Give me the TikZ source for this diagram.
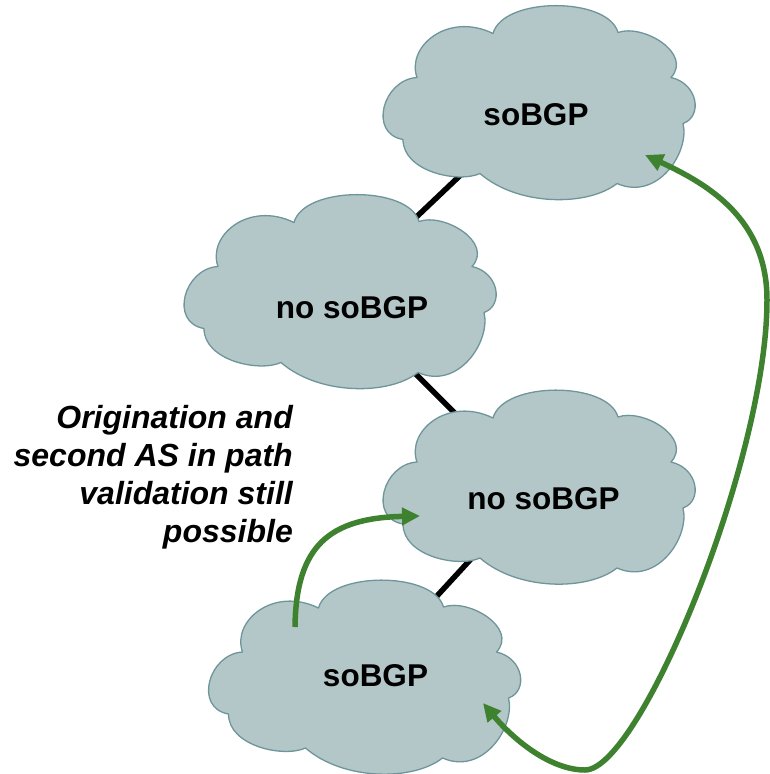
\documentclass[tikz,border=0pt]{standalone}
\usepackage{fontspec}
\setmainfont{Liberation Sans}
\usetikzlibrary{arrows.meta,calc}
\definecolor{cloudfill}{RGB}{179,198,200}
\definecolor{cloudline}{RGB}{110,150,154}
\definecolor{arrowgreen}{RGB}{62,130,48}
\tikzset{
  pics/cloudpic/.style={code={
    \filldraw[fill=cloudfill, draw=cloudline, line width=1.3pt, line join=round]
      (-45,-68) .. controls (-35,-105) and (70,-105) .. (80,-69)
      .. controls (105,-78) and (155,-48) .. (133,-24)
      .. controls (160,-18) and (165,15) .. (145,22)
      .. controls (152,50) and (120,100) .. (79,82)
      .. controls (50,105) and (-20,105) .. (-58,72)
      .. controls (-80,82) and (-135,70) .. (-135,38)
      .. controls (-170,32) and (-155,-22) .. (-121,-24)
      .. controls (-132,-55) and (-90,-90) .. (-45,-68) -- cycle;
  }},
  lbl/.style={font=\fontsize{31.5}{37}\selectfont\bfseries, inner sep=0pt},
  note/.style={font=\fontsize{32}{38}\selectfont\bfseries\itshape, align=right, inner sep=0pt},
  link/.style={line width=5.5pt, black},
  garrow/.style={line width=5.5pt, arrowgreen, -{Triangle[length=18pt,width=17pt]}},
  garrowboth/.style={line width=5.5pt, arrowgreen, {Triangle[length=18pt,width=17pt]}-{Triangle[length=18pt,width=17pt]}},
}
\begin{document}
\begin{tikzpicture}[x=1pt,y=-1pt]
\useasboundingbox (0,0) rectangle (770,774);
\coordinate (c1) at (538,101.5);
\coordinate (c2) at (339,290.5);
\coordinate (c3) at (538,486);
\coordinate (c4) at (363.5,676);
% connectors behind clouds
\draw[link] (c1) -- (c2);
\draw[link] ($(c2)+(0,7)$) -- ($(c3)+(0,10)$);
\draw[link] (c3) -- (c4);
% clouds
\pic (k1) at (c1) {cloudpic};
\pic (k2) at (c2) {cloudpic};
\pic (k3) at (c3) {cloudpic};
\pic (k4) at (c4) {cloudpic};
% labels
\node[lbl] (t1) at (536,114.5) {soBGP};
\node[lbl] (t2) at (352,307.5) {no soBGP};
\node[lbl] (t3) at (543.5,499) {no soBGP};
\node[lbl] (t4) at (375.5,675.5) {soBGP};
\node[note, anchor=north east] (nt) at (293,405) {Origination and\\second AS in path\\validation still\\possible};
% green arrows
\coordinate (g1s) at (295,627);
\coordinate (g1e) at (420,516);
\draw[garrow] (g1s) .. controls (296,545) and (330,518) .. (g1e);
\coordinate (g2a) at (483,703);
\coordinate (g2m) at (585,770);
\coordinate (g2r) at (767,300);
\coordinate (g2b) at (645,155);
\draw[garrowboth] (g2a) .. controls (513,739) and (550,770) .. (g2m)
  .. controls (640,770) and (767,460) .. (g2r)
  .. controls (767,220) and (710,185) .. (g2b);
\end{tikzpicture}
\end{document}
